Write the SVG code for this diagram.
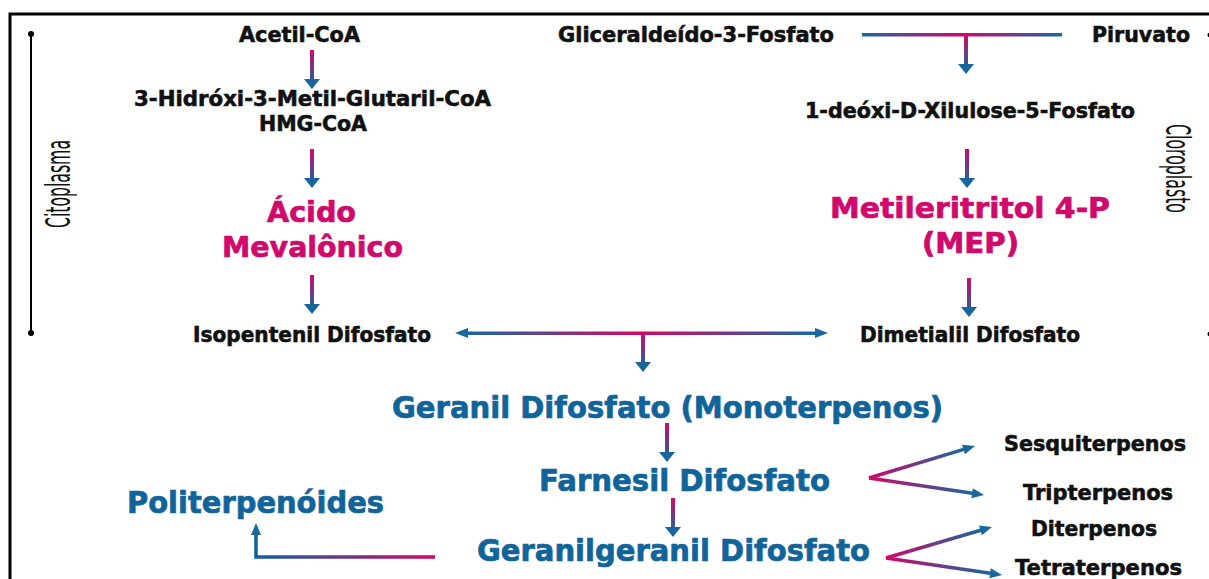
<svg xmlns="http://www.w3.org/2000/svg" xmlns:xlink="http://www.w3.org/1999/xlink" width="1209" height="579" viewBox="0 0 1209 579">
<style>
.b{font-family:"DejaVu Sans","Liberation Sans",sans-serif;font-weight:bold;font-size:21px;fill:#111;stroke:#111;stroke-width:0.6}
.m{font-family:"DejaVu Sans","Liberation Sans",sans-serif;font-weight:bold;font-size:28px;fill:#cf0a6c;stroke:#cf0a6c;stroke-width:0.7}
.u{font-family:"DejaVu Sans","Liberation Sans",sans-serif;font-weight:bold;font-size:30px;fill:#11649a;stroke:#11649a;stroke-width:0.7}
.r{font-family:"DejaVu Sans Condensed","Liberation Sans Narrow","Liberation Sans",sans-serif;font-size:33px;fill:#111}
.d{stroke-width:3.5;fill:none}
</style>
<defs>
<linearGradient id="gv" x1="0" y1="0" x2="0" y2="1"><stop offset="0" stop-color="#d0086a"/><stop offset="1" stop-color="#2c5b98"/></linearGradient>
<linearGradient id="gh" x1="0" y1="0" x2="1" y2="0"><stop offset="0" stop-color="#17699e"/><stop offset="0.5" stop-color="#d0086a"/><stop offset="1" stop-color="#17699e"/></linearGradient>
<linearGradient id="gd" x1="0" y1="0" x2="1" y2="0"><stop offset="0" stop-color="#d0086a"/><stop offset="1" stop-color="#17699e"/></linearGradient>
<linearGradient id="gp" x1="0" y1="0" x2="1" y2="0"><stop offset="0" stop-color="#0f609a"/><stop offset="1" stop-color="#d0086a"/></linearGradient>
<marker id="ah" markerUnits="userSpaceOnUse" markerWidth="14" markerHeight="12" refX="2" refY="5" orient="auto" overflow="visible"><path d="M0,0 L12,5 L0,10 z" fill="#17699e"/></marker>
<g id="va"><rect x="-2" y="0" width="4" height="30" fill="url(#gv)"/><polygon points="-8,29 8,29 0,39" fill="#17669c"/></g>
</defs>
<rect x="0" y="0" width="1209" height="579" fill="#fff"/>
<rect x="10" y="14" width="1210" height="600" fill="none" stroke="#000" stroke-width="3"/>
<g id="bracket-left" fill="#000" stroke="#000">
<line x1="31" y1="34" x2="31" y2="333" stroke-width="2"/>
<circle cx="31" cy="34" r="3" stroke="none"/><circle cx="31" cy="333" r="3" stroke="none"/>
</g>
<g id="bracket-right" fill="#000" stroke="none">
<circle cx="1210" cy="35" r="2.5"/><circle cx="1210" cy="334" r="2.5"/>
</g>
<g id="lbl-citoplasma"><text class="r" transform="translate(70,228) rotate(-90)" textLength="88" lengthAdjust="spacingAndGlyphs">Citoplasma</text></g>
<g id="lbl-cloroplasto"><text class="r" transform="translate(1166,124) rotate(90)" textLength="89" lengthAdjust="spacingAndGlyphs">Cloroplasto</text></g>
<g id="connectors">
<use xlink:href="#va" href="#va" x="312" y="50"/>
<use xlink:href="#va" href="#va" x="312" y="149"/>
<use xlink:href="#va" href="#va" x="312" y="275"/>
<rect x="862" y="33" width="200" height="3.5" fill="url(#gh)"/>
<use xlink:href="#va" href="#va" x="966" y="35"/>
<use xlink:href="#va" href="#va" x="967" y="149"/>
<use xlink:href="#va" href="#va" x="969" y="278"/>
<rect x="465" y="331.5" width="353" height="3.5" fill="url(#gh)"/>
<polygon points="455,333 468,328 468,338" fill="#17699e"/>
<polygon points="828,333 815,328 815,338" fill="#17699e"/>
<use xlink:href="#va" href="#va" x="643" y="333"/>
<use xlink:href="#va" href="#va" x="667" y="423"/>
<use xlink:href="#va" href="#va" x="673" y="498"/>
<line class="d" x1="869" y1="478" x2="965.4" y2="448.9" stroke="url(#gd)" marker-end="url(#ah)"/>
<line class="d" x1="869" y1="478" x2="974.1" y2="493.5" stroke="url(#gd)" marker-end="url(#ah)"/>
<line class="d" x1="886" y1="558" x2="982.4" y2="529.8" stroke="url(#gd)" marker-end="url(#ah)"/>
<line class="d" x1="886" y1="558" x2="992.1" y2="573.5" stroke="url(#gd)" marker-end="url(#ah)"/>
<path class="d" d="M435,557 H256 V533" stroke="url(#gp)" marker-end="url(#ah)"/>
</g>
<g id="n-acetil"><text class="b" x="239" y="42" textLength="121" lengthAdjust="spacingAndGlyphs">Acetil-CoA</text></g>
<g id="n-hmg"><text class="b" x="134" y="106" textLength="357" lengthAdjust="spacingAndGlyphs">3-Hidróxi-3-Metil-Glutaril-CoA</text>
<text class="b" x="259" y="131" textLength="108" lengthAdjust="spacingAndGlyphs">HMG-CoA</text></g>
<g id="n-mevalonico"><text class="m" x="267" y="222" textLength="89" lengthAdjust="spacingAndGlyphs">Ácido</text>
<text class="m" x="222" y="257" textLength="181" lengthAdjust="spacingAndGlyphs">Mevalônico</text></g>
<g id="n-isopentenil"><text class="b" x="193" y="342" textLength="238" lengthAdjust="spacingAndGlyphs">Isopentenil Difosfato</text></g>
<g id="n-gliceraldeido"><text class="b" x="558" y="42" textLength="276" lengthAdjust="spacingAndGlyphs">Gliceraldeído-3-Fosfato</text></g>
<g id="n-piruvato"><text class="b" x="1092" y="42" textLength="98" lengthAdjust="spacingAndGlyphs">Piruvato</text></g>
<g id="n-deoxi"><text class="b" x="805" y="118" textLength="330" lengthAdjust="spacingAndGlyphs">1-deóxi-D-Xilulose-5-Fosfato</text></g>
<g id="n-mep"><text class="m" x="830" y="218" textLength="280" lengthAdjust="spacingAndGlyphs">Metileritritol 4-P</text>
<text class="m" x="922" y="253" textLength="97" lengthAdjust="spacingAndGlyphs">(MEP)</text></g>
<g id="n-dimetialil"><text class="b" x="860" y="342" textLength="220" lengthAdjust="spacingAndGlyphs">Dimetialil Difosfato</text></g>
<g id="n-geranil"><text class="u" x="392" y="418" textLength="551" lengthAdjust="spacingAndGlyphs">Geranil Difosfato (Monoterpenos)</text></g>
<g id="n-farnesil"><text class="u" x="539" y="491" textLength="291" lengthAdjust="spacingAndGlyphs">Farnesil Difosfato</text></g>
<g id="n-geranilgeranil"><text class="u" x="477" y="561" textLength="393" lengthAdjust="spacingAndGlyphs">Geranilgeranil Difosfato</text></g>
<g id="n-politerpenoides"><text class="u" x="127" y="513" textLength="257" lengthAdjust="spacingAndGlyphs">Politerpenóides</text></g>
<g id="n-sesquiterpenos"><text class="b" x="1004" y="451" textLength="182" lengthAdjust="spacingAndGlyphs">Sesquiterpenos</text></g>
<g id="n-tripterpenos"><text class="b" x="1023" y="500" textLength="150" lengthAdjust="spacingAndGlyphs">Tripterpenos</text></g>
<g id="n-diterpenos"><text class="b" x="1031" y="536" textLength="126" lengthAdjust="spacingAndGlyphs">Diterpenos</text></g>
<g id="n-tetraterpenos"><text class="b" x="1015" y="575" textLength="167" lengthAdjust="spacingAndGlyphs">Tetraterpenos</text></g>
</svg>
